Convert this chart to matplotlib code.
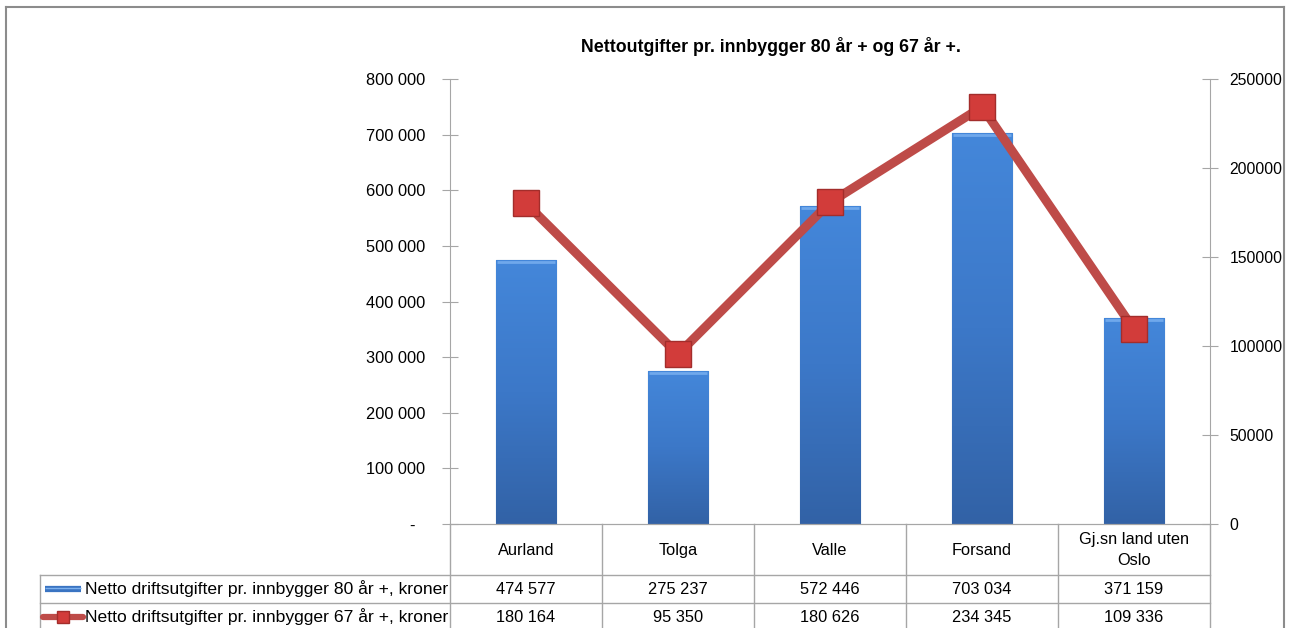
import numpy as np
import matplotlib
matplotlib.use("Agg")
import matplotlib.pyplot as plt
from matplotlib.colors import LinearSegmentedColormap
from matplotlib.lines import Line2D
from matplotlib.transforms import blended_transform_factory

plt.rcParams["font.family"] = ["Liberation Sans", "DejaVu Sans"]

title = "Nettoutgifter pr. innbygger 80 år + og 67 år +."
categories = ["Aurland", "Tolga", "Valle", "Forsand", "Gj.sn land uten\nOslo"]
series_bar_name = "Netto driftsutgifter pr. innbygger 80 år +, kroner"
series_line_name = "Netto driftsutgifter pr. innbygger 67 år +, kroner"
bar_values = [474577, 275237, 572446, 703034, 371159]
line_values = [180164, 95350, 180626, 234345, 109336]
left_ticks = [0, 100000, 200000, 300000, 400000, 500000, 600000, 700000, 800000]
right_ticks = [0, 50000, 100000, 150000, 200000, 250000]

W, H = 1290, 628
fig = plt.figure(figsize=(W / 100, H / 100), dpi=100)


def fx(px):
    return px / W


def fy(py):
    return 1 - py / H


grid_col = "#a6a6a6"
fs = 11.8
ax = fig.add_axes([fx(450), fy(524), fx(1210) - fx(450), fy(79) - fy(524)])
ax2 = ax.twinx()

x = np.arange(len(categories))
bw = 0.4
bars = ax.bar(x, bar_values, width=bw, color="#3f7bcc", edgecolor="#2f5d9c",
              linewidth=0.8, zorder=2)

# vertical gradient inside each bar
cmap = LinearSegmentedColormap.from_list("blu", ["#3262a6", "#3c78c8", "#4487da"])
grad = np.linspace(0, 1, 256).reshape(-1, 1)
for xi, v, b in zip(x, bar_values, bars):
    im = ax.imshow(grad, extent=[xi - bw / 2, xi + bw / 2, 0, v], origin="lower",
                   aspect="auto", cmap=cmap, zorder=2.1, interpolation="bicubic")
    im.set_clip_path(b)
    ax.plot([xi - bw / 2 + 0.01, xi + bw / 2 - 0.01], [v - 4000, v - 4000],
            color="#6fa8ec", lw=2, zorder=2.2, solid_capstyle="butt")

ax.set_xlim(-0.5, len(categories) - 0.5)
ax.set_ylim(0, 800000)
ax.set_yticks(left_ticks)
ax.set_yticklabels(["-  " if t == 0 else f"{t:,}".replace(",", " ") for t in left_ticks])
ax.set_xticks([])

ax2.plot(x, line_values, color="#be4b48", lw=6.5, marker="s", markersize=19,
         markerfacecolor="#d23c3a", markeredgecolor="#a32d2b", markeredgewidth=1,
         solid_joinstyle="miter", zorder=3)
ax2.set_ylim(0, 250000)
ax2.set_yticks(right_ticks)
ax2.set_yticklabels([str(t) for t in right_ticks])
ax2.set_xlim(-0.5, len(categories) - 0.5)

for a in (ax, ax2):
    a.spines["top"].set_visible(False)
    a.spines["left"].set_color(grid_col)
    a.spines["right"].set_color(grid_col)
    a.spines["bottom"].set_color(grid_col)
    a.tick_params(axis="y", direction="inout", length=12, color=grid_col,
                  labelsize=fs, labelcolor="#000000")
ax.spines["right"].set_visible(False)
ax2.spines["left"].set_visible(False)
ax.tick_params(axis="y", pad=12)
ax2.tick_params(axis="y", pad=8, labelsize=11.3)

fig.text(fx(771), fy(46), title, ha="center", va="center", fontsize=12.8,
         fontweight="bold")

# data table under the chart
tr = blended_transform_factory(ax.transData, fig.transFigure)
lw = 1.0
bottom = fy(640)
for xb in np.arange(-0.5, len(categories), 1.0):
    fig.add_artist(Line2D([xb, xb], [fy(524), bottom], transform=tr,
                          color=grid_col, lw=lw))
for yp in (575, 603):
    fig.add_artist(Line2D([fx(40), fx(1210)], [fy(yp), fy(yp)],
                          transform=fig.transFigure, color=grid_col, lw=lw))
fig.add_artist(Line2D([fx(40), fx(40)], [fy(575), bottom],
                      transform=fig.transFigure, color=grid_col, lw=lw))

for xi, cat in zip(x, categories):
    if "\n" in cat:
        fig.text(xi, fy(550), cat, transform=tr, ha="center", va="center",
                 fontsize=fs, linespacing=1.55)
    else:
        fig.text(xi, fy(555), cat, transform=tr, ha="center", va="baseline",
                 fontsize=fs)
for xi, v in zip(x, bar_values):
    fig.text(xi, fy(594), f"{v:,}".replace(",", " "), transform=tr,
             ha="center", va="baseline", fontsize=fs)
for xi, v in zip(x, line_values):
    fig.text(xi, fy(622), f"{v:,}".replace(",", " "), transform=tr,
             ha="center", va="baseline", fontsize=fs)

fig.text(fx(85), fy(594), series_bar_name, ha="left", va="baseline", fontsize=12.6)
fig.text(fx(85), fy(622), series_line_name, ha="left", va="baseline", fontsize=12.6)

# legend keys in the table
fig.add_artist(Line2D([fx(45), fx(81)], [fy(589), fy(589)], transform=fig.transFigure,
                      color="#3a74c2", lw=4.5, solid_capstyle="butt"))
fig.add_artist(Line2D([fx(45), fx(81)], [fy(587.5), fy(587.5)], transform=fig.transFigure,
                      color="#7db1ee", lw=1, solid_capstyle="butt"))
fig.add_artist(Line2D([fx(43), fx(83)], [fy(617), fy(617)], transform=fig.transFigure,
                      color="#be4b48", lw=4.5, solid_capstyle="round"))
fig.add_artist(Line2D([fx(63)], [fy(617)], transform=fig.transFigure,
                      marker="s", markersize=9, markerfacecolor="#d23c3a",
                      markeredgecolor="#a32d2b", lw=0))

# outer chart border
for xs, ys in (([6, 6], [7, 700]), ([6, 1284], [7, 7]), ([1284, 1284], [7, 700])):
    fig.add_artist(Line2D([fx(v) for v in xs], [fy(v) for v in ys],
                          transform=fig.transFigure, color="#8c8c8c", lw=1.5))

fig.savefig("out.png", dpi=100)
